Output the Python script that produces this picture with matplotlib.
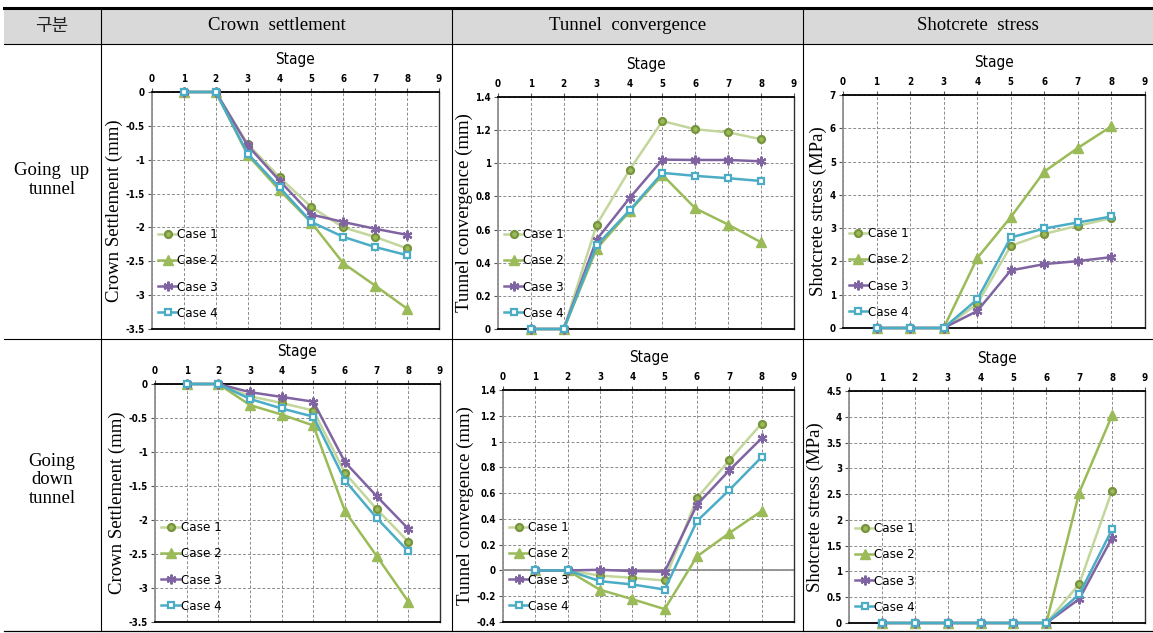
import matplotlib
matplotlib.use("Agg")
import matplotlib.pyplot as plt
from matplotlib.patches import Rectangle

stages = [1, 2, 3, 4, 5, 6, 7, 8]
case_names = ["Case 1", "Case 2", "Case 3", "Case 4"]

# Going up tunnel
up_crown = [
    [0, 0, -0.77, -1.26, -1.70, -2.00, -2.14, -2.31],
    [0, 0, -0.93, -1.45, -1.93, -2.53, -2.86, -3.20],
    [0, 0, -0.79, -1.31, -1.81, -1.92, -2.02, -2.11],
    [0, 0, -0.91, -1.41, -1.92, -2.14, -2.29, -2.41],
]
up_conv = [
    [0, 0, 0.63, 0.96, 1.255, 1.205, 1.187, 1.145],
    [0, 0, 0.485, 0.71, 0.93, 0.728, 0.63, 0.523],
    [0, 0, 0.54, 0.79, 1.022, 1.02, 1.02, 1.012],
    [0, 0, 0.505, 0.716, 0.942, 0.924, 0.91, 0.893],
]
up_stress = [
    [0, 0, 0, 0.72, 2.47, 2.83, 3.07, 3.30],
    [0, 0, 0, 2.10, 3.33, 4.70, 5.41, 6.06],
    [0, 0, 0, 0.51, 1.73, 1.92, 2.01, 2.13],
    [0, 0, 0, 0.86, 2.72, 2.99, 3.17, 3.35],
]
# Going down tunnel
down_crown = [
    [0, 0, -0.18, -0.28, -0.39, -1.31, -1.84, -2.32],
    [0, 0, -0.31, -0.45, -0.61, -1.87, -2.53, -3.20],
    [0, 0, -0.12, -0.19, -0.26, -1.15, -1.65, -2.13],
    [0, 0, -0.22, -0.36, -0.48, -1.42, -1.97, -2.46],
]
down_conv = [
    [0, 0, -0.04, -0.057, -0.078, 0.562, 0.855, 1.14],
    [0, 0, -0.15, -0.223, -0.30, 0.109, 0.29, 0.461],
    [0, 0, 0.005, -0.005, -0.01, 0.51, 0.777, 1.026],
    [0, 0, -0.083, -0.109, -0.148, 0.383, 0.624, 0.88],
]
down_stress = [
    [0, 0, 0, 0, 0, 0, 0.756, 2.57],
    [0, 0, 0, 0, 0, 0, 2.53, 4.03],
    [0, 0, 0, 0, 0, 0, 0.465, 1.655],
    [0, 0, 0, 0, 0, 0, 0.556, 1.816],
]

col_titles = ["Crown  settlement", "Tunnel  convergence", "Shotcrete  stress"]
row_titles = ["Going  up\ntunnel", "Going\ndown\ntunnel"]
corner_title = "구분"
y_labels = ["Crown Settlement (mm)", "Tunnel convergence (mm)", "Shotcrete stress (MPa)"]

W, H = 1153, 633
fig = plt.figure(figsize=(W / 100, H / 100), dpi=100)

NARROW = ["DejaVu Sans"]
SERIF = ["Liberation Serif", "DejaVu Serif"]

def px_axes(x0, y0, x1, y1):
    return fig.add_axes([x0 / W, 1 - y1 / H, (x1 - x0) / W, (y1 - y0) / H])

# table background
tab = fig.add_axes([0, 0, 1, 1])
tab.set_xlim(0, W)
tab.set_ylim(H, 0)
tab.axis("off")
tab.add_patch(Rectangle((4, 8), W - 4, 36, facecolor="#d9d9d9", edgecolor="none"))
tab.plot([4, W], [8, 8], color="black", lw=2.2)
tab.plot([4, W], [44, 44], color="black", lw=0.8)
tab.plot([4, W], [339, 339], color="black", lw=0.8)
tab.plot([4, W], [631, 631], color="black", lw=0.9)
for xv in [101, 452, 803]:
    tab.plot([xv, xv], [8, 631], color="black", lw=0.8)
tab.text(52, 26, corner_title, ha="center", va="center", fontsize=13,
         family=["Noto Sans CJK KR", "DejaVu Sans"], color="#222222")
for cx, t in zip([277, 628, 978], col_titles):
    tab.text(cx, 26, t, ha="center", va="center", fontsize=13.5, family=SERIF)
tab.text(52, 180, row_titles[0], ha="center", va="center", fontsize=13.5,
         family=SERIF, linespacing=1.15)
tab.text(52, 480, row_titles[1], ha="center", va="center", fontsize=13.5,
         family=SERIF, linespacing=1.15)

styles = [
    dict(color="#c3d69b", marker="o", mfc="#9bbb59", mec="#77933c", ms=5, mew=1.6),
    dict(color="#9bbb59", marker="^", mfc="#9bbb59", mec="#9bbb59", ms=6.5, mew=1),
    dict(color="#8064a2", marker=(6, 2, 0), mfc="#8064a2", mec="#8064a2", ms=7, mew=1.6),
    dict(color="#4bacc6", marker="s", mfc="white", mec="#4bacc6", ms=5, mew=1.6),
]

panels = [
    (up_crown, (152, 92, 439, 329), (-3.5, 0), [0, -0.5, -1, -1.5, -2, -2.5, -3, -3.5], 0, 0),
    (up_conv, (498, 97, 794, 329), (0, 1.4), [0, 0.2, 0.4, 0.6, 0.8, 1, 1.2, 1.4], 0, 1),
    (up_stress, (843, 95, 1145, 328), (0, 7), [0, 1, 2, 3, 4, 5, 6, 7], 0, 2),
    (down_crown, (155, 384, 440, 622), (-3.5, 0), [0, -0.5, -1, -1.5, -2, -2.5, -3, -3.5], 1, 0),
    (down_conv, (503, 390, 794, 622), (-0.4, 1.4), [-0.4, -0.2, 0, 0.2, 0.4, 0.6, 0.8, 1, 1.2, 1.4], 1, 1),
    (down_stress, (849, 391, 1145, 623), (0, 4.5), [0, 0.5, 1, 1.5, 2, 2.5, 3, 3.5, 4, 4.5], 1, 2),
]

def fmt(v):
    if abs(v - round(v)) < 1e-9:
        return str(int(round(v)))
    return ("%g" % v)

for data, box, ylim, yticks, r, c in panels:
    ax = px_axes(*box)
    ax.set_xlim(0, 9)
    ax.set_ylim(*ylim)
    ax.xaxis.tick_top()
    ax.xaxis.set_label_position("top")
    ax.set_xticks(range(10))
    ax.set_xticklabels([str(i) for i in range(10)], fontsize=7, fontweight="bold",
                       family=NARROW, fontstretch="condensed")
    ax.set_yticks(yticks)
    ax.set_yticklabels([fmt(v) for v in yticks], fontsize=7, fontweight="bold",
                       family=NARROW, fontstretch="condensed")
    ax.tick_params(axis="both", length=3, width=0.8, pad=2, color="#555555")
    ax.tick_params(axis="x", pad=3)
    ax.set_xlabel("Stage", fontsize=11, family=NARROW, fontstretch="condensed", labelpad=7)
    ax.set_ylabel(y_labels[c], fontsize=13.5, family=SERIF, labelpad=2)
    ax.grid(True, color="#8c8c8c", ls=(0, (3, 2)), lw=0.7)
    ax.set_axisbelow(True)
    ax.spines["top"].set_color("black")
    ax.spines["top"].set_linewidth(1.3)
    ax.spines["bottom"].set_color("black")
    ax.spines["bottom"].set_linewidth(1.3)
    ax.spines["left"].set_color("#909090")
    ax.spines["left"].set_linewidth(1.3)
    ax.spines["right"].set_color("#303030")
    ax.spines["right"].set_linewidth(1.0)
    if ylim[0] < 0 < ylim[1]:
        ax.axhline(0, color="#909090", lw=1.3, zorder=1)
    for vals, st, name in zip(data, styles, case_names):
        ax.plot(stages, vals, lw=1.8, label=name, clip_on=False, zorder=3, **st)
    ax.legend(loc="lower left", bbox_to_anchor=(-0.01, 0.0), frameon=False,
              handlelength=1.4, handletextpad=0.05, labelspacing=1.0,
              prop={"family": NARROW, "size": 9.5, "stretch": "condensed"},
              borderaxespad=0.3)

fig.savefig("out.png", dpi=100)
